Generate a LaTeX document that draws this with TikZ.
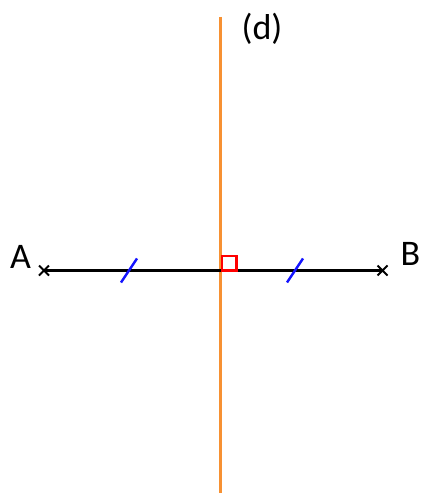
\documentclass[tikz,border=0pt]{standalone}
\usepackage{fontspec}
\setmainfont{Carlito}
\usetikzlibrary{calc}
\definecolor{dorange}{RGB}{247,145,50}
\definecolor{tickblue}{RGB}{20,20,255}
\begin{document}
\begin{tikzpicture}[x=1pt,y=-1pt,
  lbl/.style={font=\fontsize{36}{40}\selectfont, inner sep=0pt, anchor=base},
  seg/.style={line width=2.4pt, black},
  cross/.style={line width=2pt, black},
  tick/.style={line width=2.4pt, tickblue},
  perp/.style={line width=2.6pt, dorange},
  rightmark/.style={line width=2.2pt, red}]
\useasboundingbox (0,0) rectangle (421,494);
\coordinate (A) at (44,270.5);
\coordinate (B) at (382.5,270.5);
\coordinate (dtop) at (220.5,17);
\coordinate (dbot) at (220.5,493);
\coordinate (O) at (220.5,270.5);
\draw[perp] (dtop) -- (dbot);
\draw[seg] (A) -- (B);
\draw[cross] ($(A)+(-5,-5)$) -- ($(A)+(5,5)$) ($(A)+(-5,5)$) -- ($(A)+(5,-5)$);
\draw[cross] ($(B)+(-5,-5)$) -- ($(B)+(5,5)$) ($(B)+(-5,5)$) -- ($(B)+(5,-5)$);
\coordinate (t1) at (129,270.5);
\coordinate (t2) at (295,270.5);
\draw[tick] ($(t1)+(-8,12)$) -- ($(t1)+(8,-12)$);
\draw[tick] ($(t2)+(-8,12)$) -- ($(t2)+(8,-12)$);
\draw[rightmark] (222,256) rectangle (236.5,270.5);
\node[lbl] (lA) at (20.5,268) {A};
\node[lbl] (lB) at (410.5,265) {B};
\node[lbl] (ld) at (262,40) {(d)};
\end{tikzpicture}
\end{document}
